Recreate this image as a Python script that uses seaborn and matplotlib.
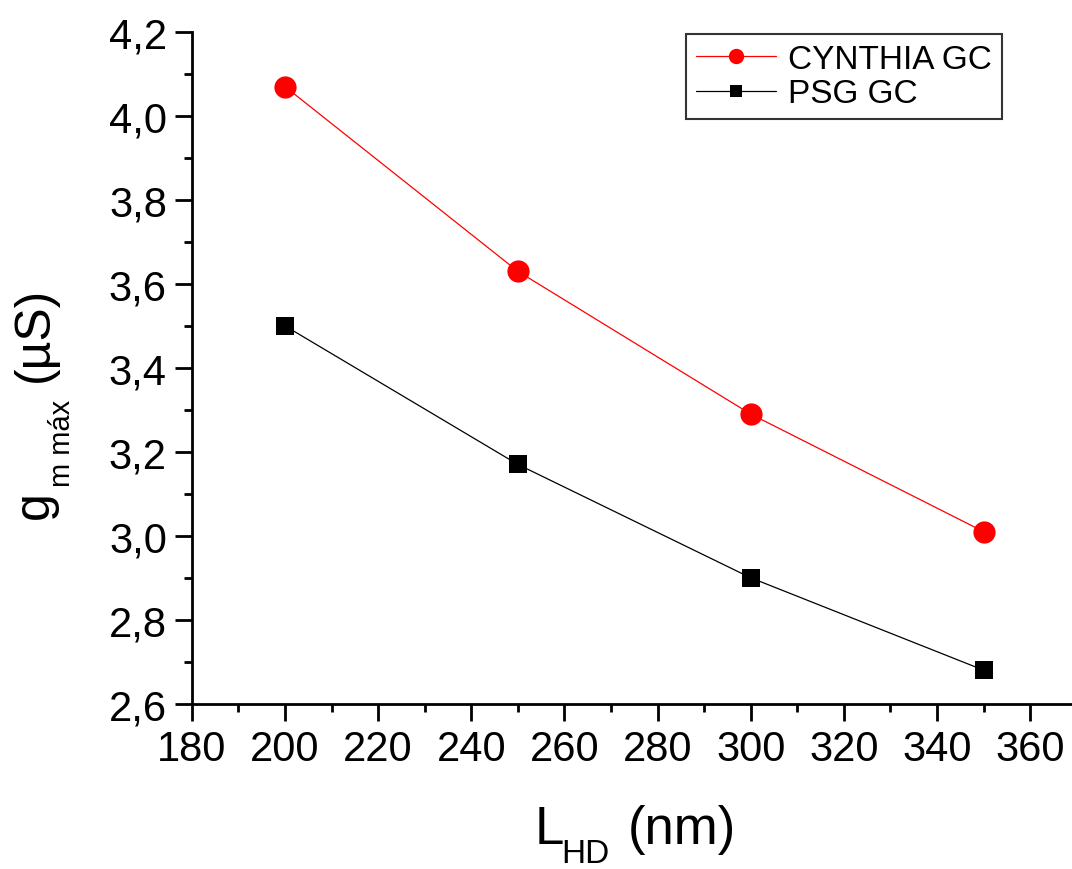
import matplotlib
matplotlib.use("Agg")
import matplotlib.pyplot as plt
import matplotlib.ticker as mticker
from matplotlib.font_manager import FontProperties
from matplotlib.transforms import IdentityTransform
import seaborn as sns
import pandas as pd

# Gate length and peak transconductance of the two devices
l_hd = [200, 250, 300, 350]
gm_cynthia = [4.07, 3.63, 3.29, 3.01]
gm_psg = [3.50, 3.17, 2.90, 2.68]
series_names = ["CYNTHIA GC", "PSG GC"]

df = pd.DataFrame({
    "L": l_hd * 2,
    "gm": gm_cynthia + gm_psg,
    "device": [series_names[0]] * 4 + [series_names[1]] * 4,
})

sns.set_theme(style="ticks")
FAMILY = ["Liberation Sans", "DejaVu Sans"]
plt.rcParams["font.family"] = FAMILY
plt.rcParams["text.color"] = "black"
plt.rcParams["axes.labelcolor"] = "black"

fig = plt.figure(figsize=(10.72, 8.7), dpi=100)
ax = fig.add_axes([0.179, 0.19, 0.821, 0.772])

styles = {
    series_names[0]: dict(color="#ff0000", marker="o", markersize=16),
    series_names[1]: dict(color="#000000", marker="s", markersize=13),
}
for name in series_names:
    sub = df[df["device"] == name]
    st = styles[name]
    sns.lineplot(data=sub, x="L", y="gm", ax=ax, color=st["color"],
                 marker=st["marker"], markersize=st["markersize"],
                 markeredgewidth=0, linewidth=0.9, label=name)

ax.set_xlim(180, 369)
ax.set_ylim(2.6, 4.2)
ax.xaxis.set_major_locator(mticker.MultipleLocator(20))
ax.xaxis.set_minor_locator(mticker.MultipleLocator(10))
ax.yaxis.set_major_locator(mticker.MultipleLocator(0.2))
ax.yaxis.set_minor_locator(mticker.MultipleLocator(0.1))
ax.yaxis.set_major_formatter(mticker.FuncFormatter(lambda v, p: f"{v:.1f}".replace(".", ",")))

for s in ["top", "right"]:
    ax.spines[s].set_visible(False)
for s in ["left", "bottom"]:
    ax.spines[s].set_linewidth(2)
    ax.spines[s].set_color("black")
ax.tick_params(which="major", direction="out", length=12, width=2, labelsize=30,
               colors="black", pad=6)
ax.tick_params(which="minor", direction="out", length=6, width=2, colors="black")
ax.set_xlabel("")
ax.set_ylabel("")

leg = ax.legend(loc="upper right", bbox_to_anchor=(0.9205, 0.997), fontsize=24,
                frameon=True, fancybox=False, handlelength=2.4, markerscale=0.69,
                borderpad=0.3, labelspacing=0.1, handletextpad=0.35,
                borderaxespad=0.0)
leg.get_frame().set_edgecolor("black")
leg.get_frame().set_linewidth(1.5)
for t in leg.get_texts():
    t.set_color("black")

# Axis titles with a deeply dropped subscript, laid out piece by piece (pixels)
renderer = fig.canvas.get_renderer()


def piecewise_label(pieces, x0, y0, vertical=False):
    """pieces: (text, fontsize, subscript drop px, gap before px)."""
    pos = 0.0
    for text, size, drop, gap in pieces:
        fp = FontProperties(family=FAMILY, size=size)
        w, _, _ = renderer.get_text_width_height_descent(text, fp, ismath=False)
        pos += gap
        if vertical:
            fig.text(x0 + drop, y0 + pos, text, fontproperties=fp, rotation=90,
                     rotation_mode="anchor", ha="left", va="baseline",
                     color="black", transform=IdentityTransform())
        else:
            fig.text(x0 + pos, y0 - drop, text, fontproperties=fp,
                     ha="left", va="baseline", color="black",
                     transform=IdentityTransform())
        pos += w


H = fig.bbox.height
piecewise_label([("L", 38, 0, 0), ("HD", 24, 19, -3), ("(nm)", 38, 0, 18)],
                535, H - 844)
piecewise_label([("g", 36, 0, 0), ("m máx", 21, 22, 4), ("(µS)", 36, 0, 18)],
                48, H - 519, vertical=True)

fig.savefig("out.png", dpi=100)
